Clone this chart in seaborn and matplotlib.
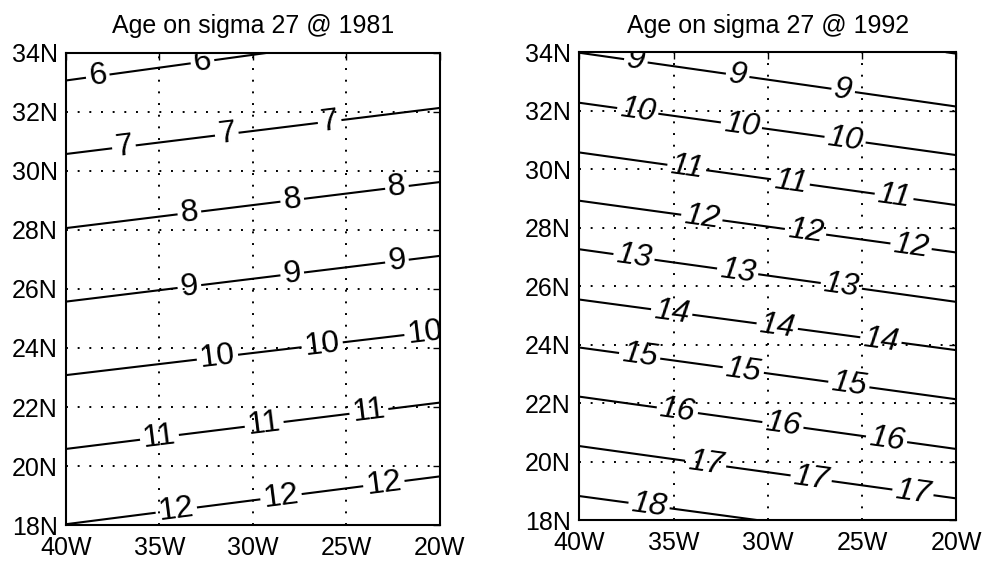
import numpy as np
import matplotlib
matplotlib.use("Agg")
import matplotlib.pyplot as plt
import seaborn as sns

# contour lines: latitude where each age line
# crosses 40W (west edge) and 20W (east edge)
levels_1981 = [6, 7, 8, 9, 10, 11, 12]
lat_west_1981 = [33.06, 30.57, 28.06, 25.57, 23.08, 20.58, 18.03]
lat_east_1981 = [34.80, 32.13, 29.62, 27.12, 24.58, 22.15, 19.65]

levels_1992 = [8, 9, 10, 11, 12, 13, 14, 15, 16, 17, 18]
lat_west_1992 = [35.73, 33.98, 32.27, 30.57, 28.92, 27.26, 25.54, 23.90, 22.22, 20.53, 18.82]
lat_east_1992 = [33.95, 32.14, 30.48, 28.77, 27.15, 25.46, 23.81, 22.13, 20.43, 18.74, 17.08]

lon_ticks = [-40, -35, -30, -25, -20]
lon_labels = ["40W", "35W", "30W", "25W", "20W"]
lat_ticks = [18, 20, 22, 24, 26, 28, 30, 32, 34]
lat_labels = ["18N", "20N", "22N", "24N", "26N", "28N", "30N", "32N", "34N"]

# where the inline labels sit (longitude along each line)
label_lons_1981 = {6: [-38.3, -32.7], 7: [-36.9, -31.4, -25.9],
                   8: [-33.4, -27.9, -22.3], 9: [-33.4, -27.9, -22.3],
                   10: [-31.9, -26.3, -20.8], 11: [-35.0, -29.4, -23.8],
                   12: [-34.1, -28.5, -23.0]}
label_lons_1992 = {9: [-37.0, -31.6, -26.0], 10: [-36.9, -31.4, -25.9],
                   11: [-34.3, -28.8, -23.3], 12: [-33.5, -28.0, -22.4],
                   13: [-37.1, -31.6, -26.1], 14: [-35.1, -29.5, -24.0],
                   15: [-36.8, -31.3, -25.7], 16: [-34.8, -29.2, -23.7],
                   17: [-33.3, -27.7, -22.3], 18: [-36.3]}


def age_field(levels, lat_w, lat_e, lon, lat):
    """Grid of age built by interpolating between the read-off lines."""
    lv = np.asarray(levels, float)
    lw = np.asarray(lat_w, float)
    le = np.asarray(lat_e, float)
    Z = np.empty((lat.size, lon.size))
    for j, x in enumerate(lon):
        f = (x - lon[0]) / (lon[-1] - lon[0])
        ll = lw + (le - lw) * f
        # pad one step beyond each end so the field extrapolates
        ll = np.r_[2 * ll[0] - ll[1], ll, 2 * ll[-1] - ll[-2]]
        vv = np.r_[2 * lv[0] - lv[1], lv, 2 * lv[-1] - lv[-2]]
        o = np.argsort(ll)
        Z[:, j] = np.interp(lat, ll[o], vv[o])
    return Z


def draw_panel(ax, levels, lat_w, lat_e, label_lons, title, italic):
    lon = np.linspace(-40, -20, 201)
    lat = np.linspace(18, 34, 321)
    Z = age_field(levels, lat_w, lat_e, lon, lat)
    cs = ax.contour(lon, lat, Z, levels=levels, colors="black", linewidths=1.5)

    manual = []
    for k, lv in enumerate(levels):
        for x in label_lons.get(lv, []):
            f = (x + 40) / 20
            manual.append((x, lat_w[k] + (lat_e[k] - lat_w[k]) * f))
    txts = ax.clabel(cs, fmt="%d", manual=manual, inline=True,
                     inline_spacing=3, fontsize=23)
    for t in txts:
        t.set_fontfamily(["Liberation Sans", "DejaVu Sans"])
        if italic:
            t.set_fontstyle("italic")

    ax.set_xlim(-40, -20); ax.set_ylim(18, 34)
    ax.set_xticks(lon_ticks); ax.set_xticklabels(lon_labels)
    ax.set_yticks(lat_ticks); ax.set_yticklabels(lat_labels)
    ax.grid(True, color="black", linestyle=(0, (1, 5)), linewidth=1.4)
    ax.tick_params(axis="x", pad=8)
    ax.tick_params(axis="y", pad=6)
    ax.tick_params(direction="in", length=5, width=1, labelsize=18,
                   top=True, right=True, colors="black")
    for s in ax.spines.values():
        s.set_visible(True); s.set_color("black"); s.set_linewidth(1.5)
    ax.set_title(title, fontsize=18, pad=14, color="black")


sns.set_style("white", rc={"text.color": "black", "axes.labelcolor": "black",
                           "xtick.color": "black", "ytick.color": "black"})
plt.rcParams["font.family"] = ["Liberation Sans", "DejaVu Sans"]

fig = plt.figure(figsize=(9.92, 5.61), dpi=100)
ax1 = fig.add_axes([0.0665, 0.064, 0.377, 0.842])
ax2 = fig.add_axes([0.584, 0.073, 0.380, 0.834])

draw_panel(ax1, levels_1981, lat_west_1981, lat_east_1981, label_lons_1981,
           "Age on sigma 27 @ 1981", italic=False)
draw_panel(ax2, levels_1992, lat_west_1992, lat_east_1992, label_lons_1992,
           "Age on sigma 27 @ 1992", italic=True)

fig.savefig("out.png", dpi=100)
plt.close(fig)
